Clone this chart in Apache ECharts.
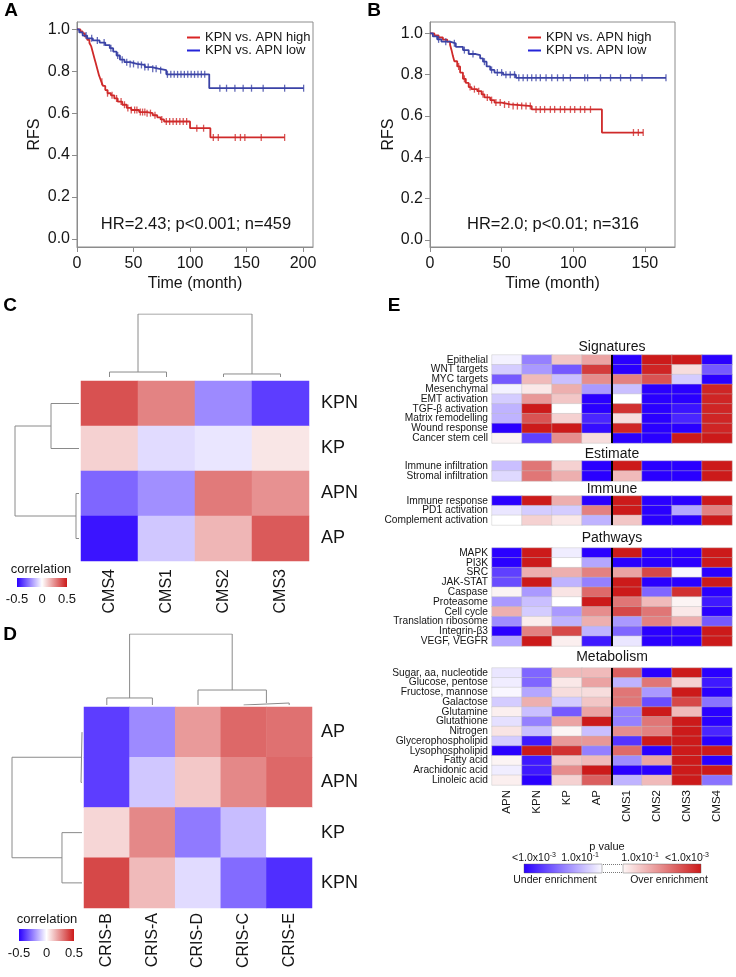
<!DOCTYPE html>
<html><head><meta charset="utf-8">
<script src="https://cdn.jsdelivr.net/npm/echarts@6/dist/echarts.min.js"></script>
<style>html,body{margin:0;padding:0;background:#fff}#c{width:736px;height:977px}</style>
</head><body><div id="c"></div>
<script>
const FONT = '"Liberation Sans", Arial, sans-serif';
const AX = '#8c8c8c', TXT = '#151515';
const BLUE = '#2a00ff', RED = '#cc1a1a';

// ---------- Panel A / B : Kaplan-Meier ----------
const kmLegend = ['KPN vs. APN high', 'KPN vs. APN low'];
const kmYTicks = [0, 0.2, 0.4, 0.6, 0.8, 1.0];
const kmXTicksA = [0, 50, 100, 150, 200];
const kmXTicksB = [0, 50, 100, 150];
const statsA = 'HR=2.43; p<0.001; n=459';
const statsB = 'HR=2.0; p<0.01; n=316';

const kmA_high = [[0,1],[3,0.99],[5,0.98],[7,0.965],[9,0.95],[11,0.935],[12.5,0.92],[13.5,0.9],[14.5,0.88],[15.5,0.86],[16.5,0.84],[17.5,0.82],[18.5,0.8],[19.5,0.78],[20.5,0.765],[21.5,0.75],[23,0.73],[25,0.71],[27,0.695],[30,0.685],[33,0.67],[36,0.655],[40,0.64],[44,0.625],[48,0.615],[55,0.605],[62,0.6],[67,0.59],[71,0.58],[74,0.57],[77,0.56],[100,0.528],[118,0.484],[183.7,0.484]];
const kmA_low = [[0,1],[2,0.985],[5,0.97],[9,0.957],[14,0.947],[20,0.937],[25,0.925],[29,0.91],[32,0.894],[35,0.875],[38,0.855],[42,0.843],[47,0.835],[53,0.83],[60,0.82],[66,0.812],[72,0.805],[79,0.785],[117,0.719],[200.5,0.719]];
const kmA_high_cens = [22,27,31,35,39,42,45,48,51,53,56,58,60,62,65,69,75,79,82,85,88,91,94,97,106,112,120.6,125,140,144.6,148.5,163,183.7];
const kmA_low_cens = [8,13,18,24,30,36,40,44,47,50,54,57,60,63,67,70,74,80,83,86,89,92,95,98,101,104,107,110,113,126.4,132.3,139.7,147,154.4,164.7,183.7,200.5];

const kmB_high = [[0,1],[3,0.99],[6,0.98],[9,0.97],[12,0.96],[14,0.945],[15,0.92],[16,0.89],[17,0.865],[19,0.84],[21,0.81],[23,0.78],[25,0.76],[27,0.74],[29,0.73],[33,0.72],[36,0.705],[38,0.69],[42,0.677],[45,0.665],[50,0.656],[56,0.648],[71,0.632],[120,0.52],[148.8,0.52]];
const kmB_low = [[0,1],[2,0.985],[5,0.971],[8,0.96],[14,0.952],[18,0.935],[23,0.919],[27,0.9],[32,0.895],[35,0.879],[37,0.863],[39.5,0.84],[42,0.823],[45,0.81],[51,0.8],[60,0.785],[164.7,0.785]];
const kmB_high_cens = [20,24,28,31,34,37,40,43,46,49,52,55,58,61,64,67,70,74,77,80,84,87,91,94,98,101,105,108,112,142,145.4,148.8];
const kmB_low_cens = [6,11,17,24,30,38,43,47,50,53,56,59,62,65,68,71,74,77,81,85,89,93,98,108,110,119,126,133,140,148,164.7];

// ---------- Panel C ----------
const cCols = ['CMS4', 'CMS1', 'CMS2', 'CMS3'];
const cRows = ['KPN', 'KP', 'APN', 'AP'];
const cKPN = [0.38, 0.27, -0.23, -0.38];
const cKP  = [0.10, -0.07, -0.05, 0.055];
const cAPN = [-0.30, -0.22, 0.29, 0.24];
const cAP  = [-0.46, -0.11, 0.16, 0.36];
const cColMerges = [[0,1,0.079],[2,3,0.048],[4,5,1]];
const cRowMerges = [[0,1,0.4375],[2,3,0.047],[4,5,1]];

// ---------- Panel D ----------
const dCols = ['CRIS-B', 'CRIS-A', 'CRIS-D', 'CRIS-C', 'CRIS-E'];
const dRows = ['AP', 'APN', 'KP', 'KPN'];
const dAP  = [-0.38, -0.23, 0.22, 0.33, 0.31];
const dAPN = [-0.38, -0.11, 0.12, 0.26, 0.33];
const dKP  = [0.09, 0.26, -0.26, -0.13, 0.0];
const dKPN = [0.40, 0.15, -0.07, -0.29, -0.41];
const dColMerges = [[0,1,0.099],[3,4,0.028],[2,6,0.211],[5,7,1]];
const dRowMerges = [[0,1,0.014],[2,3,0.286],[4,5,1]];
const corrTicks = [-0.5, 0, 0.5];

// ---------- Panel E ----------
const eCols = ['APN','KPN','KP','AP','CMS1','CMS2','CMS3','CMS4'];
const eSigRows = ['Epithelial','WNT targets','MYC targets','Mesenchymal','EMT activation','TGF-β activation','Matrix remodelling','Wound response','Cancer stem cell'];
const eSigVals = [
 [-0.05,-0.5,0.25,0.4,-1,1,1,-1],
 [-0.2,-0.4,-0.65,0.85,-1,0.95,0.15,-0.65],
 [-0.65,0.3,-0.25,0.5,0.55,0.75,-0.2,-1],
 [-0.05,0.1,0.35,-0.4,-0.25,-1,-1,0.95],
 [-0.2,0.45,0.25,-1,0,-1,-1,0.95],
 [-0.3,1,0,-1,0.9,-1,-0.92,0.95],
 [-0.3,0.75,0.2,-0.85,0.15,-1,-0.85,0.95],
 [-1,1,1,-0.95,0.95,-1,-1,0.95],
 [0.05,-0.75,0.5,0.15,-1,-1,1,1]];
const eEstRows = ['Immune infiltration','Stromal infiltration'];
const eEstVals = [
 [-0.25,0.6,0.2,-1,1,-1,-1,1],
 [-0.15,0.6,0.35,-1,0.3,-1,-1,1]];
const eImmRows = ['Immune response','PD1 activation','Complement activation'];
const eImmVals = [
 [-1,1,0.35,-1,1,-1,-1,1],
 [-0.1,-0.2,-0.2,0.55,1,-1,-0.35,0.55],
 [0,0.2,0.1,-0.3,0.25,-1,-1,1]];
const ePathRows = ['MAPK','PI3K','SRC','JAK-STAT','Caspase','Proteasome','Cell cycle','Translation ribosome','Integrin-β3','VEGF, VEGFR'];
const ePathVals = [
 [-1,1,-0.07,-1,1,-1,-1,1],
 [-1,1,0,-0.35,-1,-1,-1,1],
 [-0.75,0.35,0.35,0.55,0.4,0.8,-0.03,-1],
 [-0.7,1,-0.3,-0.5,1,-1,-1,1],
 [0.05,-0.4,0.12,0.65,1,-0.6,0.9,-1],
 [-0.4,-0.25,0,1,0.6,0.3,0.05,-0.9],
 [0.35,-0.2,-0.4,0.5,0.8,0.6,0.1,-1],
 [-0.45,0.08,-0.3,0.35,-0.4,0.55,0.35,-0.65],
 [-1,0.55,0.8,-0.3,-0.6,-1,-1,1],
 [-0.35,1,0.07,-0.9,-0.1,-1,-1,1]];
const eMetRows = ['Sugar, aa, nucleotide','Glucose, pentose','Fructose, mannose','Galactose','Glutamine','Glutathione','Nitrogen','Glycerophospholipid','Lysophospholipid','Fatty acid','Arachidonic acid','Linoleic acid'];
const eMetVals = [
 [-0.1,-0.6,0.3,0.3,0.7,-1,1,-1],
 [-0.07,-0.6,0.1,0.4,-0.3,0.6,0.2,-0.9],
 [-0.03,-0.35,0.15,0.15,0.6,-0.4,1,-1],
 [-0.2,0.35,-0.2,0.25,0.6,-0.7,0.8,-0.55],
 [0.07,-0.25,-0.65,0.4,-0.5,1,0.3,-1],
 [-0.12,-0.5,0.4,1,-0.5,0.6,1,-1],
 [0.12,-0.25,0.05,-0.25,0.5,0.55,1,-0.85],
 [-0.2,-0.9,0.45,0.45,-0.8,1,1,-1],
 [-1,1,0.9,-0.5,0.65,-1,1,1],
 [0.05,-0.9,0.25,0.3,-0.45,0.4,1,-1],
 [-0.07,-0.9,0.5,1,-1,-1,1,1],
 [0.07,-1,0.2,0.7,-0.3,0.3,1,-0.55]];
const eTitles = ['Signatures','Estimate','Immune','Pathways','Metabolism'];
const eLegendTitle = 'p value';
const eLegendLabels = [['<1.0x10','-3'],['1.0x10','-1'],['1.0x10','-1'],['<1.0x10','-3']];
const eLegendSides = ['Under enrichment','Over enrichment'];

// ---------- builders ----------
const grids = [], xAxes = [], yAxes = [], series = [];
function addGrid(g, xa, ya) {
  g.containLabel = false; g.outerBoundsMode = 'none';
  grids.push(g);
  const gi = grids.length - 1;
  xa.gridIndex = gi; ya.gridIndex = gi;
  xAxes.push(xa); yAxes.push(ya);
  return gi;
}
function stepVal(curve, t) { let v = curve[0][1]; for (const p of curve) { if (p[0] <= t) v = p[1]; else break; } return v; }

function kmPanel(box, xMax, yMin, yMax, xTicks, high, low, highC, lowC, nameGapY) {
  const gi = addGrid({left: box[0], top: box[1], width: box[2], height: box[3], show: true, borderColor: AX, borderWidth: 1},
    {type: 'value', min: 0, max: xMax, splitLine: {show: false},
     axisLine: {show: true, onZero: false, lineStyle: {color: AX}},
     axisTick: {show: true, length: 5, customValues: xTicks, lineStyle: {color: AX}},
     axisLabel: {customValues: xTicks, fontSize: 16, color: TXT, margin: 9, fontFamily: FONT},
     name: 'Time (month)', nameLocation: 'middle', nameGap: 29,
     nameTextStyle: {fontSize: 16, color: TXT, fontFamily: FONT}},
    {type: 'value', min: yMin, max: yMax, splitLine: {show: false},
     axisLine: {show: true, onZero: false, lineStyle: {color: AX}},
     axisTick: {show: true, length: 5, customValues: kmYTicks, lineStyle: {color: AX}},
     axisLabel: {customValues: kmYTicks, fontSize: 16, color: TXT, margin: 7, fontFamily: FONT, formatter: v => Number(v).toFixed(1)},
     name: 'RFS', nameLocation: 'middle', nameGap: nameGapY,
     nameTextStyle: {fontSize: 16, color: TXT, fontFamily: FONT}});
  const defs = [[kmLegend[0], high, highC, '#cf2a2a'], [kmLegend[1], low, lowC, '#3b43a6']];
  defs.forEach(([name, curve, cens, col]) => {
    series.push({type: 'line', name, xAxisIndex: gi, yAxisIndex: gi, data: curve, step: 'end',
      showSymbol: false, symbol: 'none', lineStyle: {width: 1.8, color: col}, itemStyle: {color: col}, silent: true, z: 3});
    series.push({type: 'scatter', name: name + ' (censored)', xAxisIndex: gi, yAxisIndex: gi,
      data: cens.map(t => [t, stepVal(curve, t)]), symbol: 'rect', symbolSize: [1.3, 7],
      itemStyle: {color: col}, silent: true, z: 4});
  });
}
kmPanel([77, 22, 236, 225], 208.8, -0.039, 1.035, kmXTicksA, kmA_high, kmA_low, kmA_high_cens, kmA_low_cens, 34);
kmPanel([430, 22, 245, 225], 171, -0.034, 1.055, kmXTicksB, kmB_high, kmB_low, kmB_high_cens, kmB_low_cens, 28);

const corrSeries = [], eSeries = [];
function heatPanel(box, cols, rows, vals, opts) {
  const gi = addGrid({left: box[0], top: box[1], width: box[2], height: box[3]},
    {type: 'category', data: cols, axisLine: {show: false}, axisTick: {show: false}, splitLine: {show: false},
     axisLabel: opts.xLabel ? {interval: 0, rotate: 90, fontSize: opts.xFont, color: TXT, margin: opts.xMargin, fontFamily: FONT} : {show: false}},
    {type: 'category', data: rows, inverse: true, position: opts.yPos, axisLine: {show: false}, axisTick: {show: false}, splitLine: {show: false},
     axisLabel: {interval: 0, fontSize: opts.yFont, color: TXT, margin: opts.yMargin, fontFamily: FONT}});
  const data = [];
  vals.forEach((row, r) => row.forEach((v, c) => data.push([c, r, v])));
  series.push({type: 'heatmap', xAxisIndex: gi, yAxisIndex: gi, data, silent: true,
    itemStyle: opts.border ? {borderColor: 'rgba(190,190,190,0.7)', borderWidth: 0.6} : {borderWidth: 0}});
  (opts.kind === 'corr' ? corrSeries : eSeries).push(series.length - 1);
  return gi;
}
function dendro(box, n, merges, horizontal) {
  const gi = addGrid({left: box[0], top: box[1], width: box[2], height: box[3]},
    horizontal ? {type: 'value', min: 0, max: 1, inverse: true, show: false} : {type: 'value', min: 0, max: n, show: false},
    horizontal ? {type: 'value', min: 0, max: n, inverse: true, show: false} : {type: 'value', min: 0, max: 1, show: false});
  const pos = [], hgt = [];
  for (let i = 0; i < n; i++) { pos.push(i + 0.5); hgt.push(0); }
  merges.forEach(([a, b, h]) => {
    let pts = [[pos[a], hgt[a]], [pos[a], h], [pos[b], h], [pos[b], hgt[b]]];
    if (horizontal) pts = pts.map(p => [p[1], p[0]]);
    series.push({type: 'line', xAxisIndex: gi, yAxisIndex: gi, data: pts, showSymbol: false, symbol: 'none',
      lineStyle: {width: 1, color: '#8a8a8a'}, silent: true, z: 2});
    pos.push((pos[a] + pos[b]) / 2); hgt.push(h);
  });
}

// C
heatPanel([81, 381, 228, 180], cCols, cRows, [cKPN, cKP, cAPN, cAP],
  {kind: 'corr', xLabel: true, xFont: 16, xMargin: 8, yPos: 'right', yFont: 18, yMargin: 12});
dendro([81, 314, 228, 63], 4, cColMerges, false);
dendro([15, 381, 64, 180], 4, cRowMerges, true);
// D
heatPanel([84, 707, 228, 201], dCols, dRows, [dAP, dAPN, dKP, dKPN],
  {kind: 'corr', xLabel: true, xFont: 16, xMargin: 5, yPos: 'right', yFont: 18, yMargin: 9});
dendro([84, 634, 228, 71], 5, dColMerges, false);
dendro([12, 707, 70, 201], 4, dRowMerges, true);
// E
const eBlocks = [
  [355, 88, eSigRows, eSigVals, 347],
  [461, 20, eEstRows, eEstVals, 454],
  [496, 29, eImmRows, eImmVals, 489],
  [548, 98, ePathRows, ePathVals, 538],
  [668, 117, eMetRows, eMetVals, 657]];
const eGrids = eBlocks.map((b, i) => heatPanel([492, b[0], 240, b[1]], eCols, b[2], b[3],
  {kind: 'e', border: true, xLabel: i === eBlocks.length - 1, xFont: 11.5, xMargin: 5, yPos: 'left', yFont: 10.2, yMargin: 4}));

// ---------- graphics ----------
const ctx = document.createElement('canvas').getContext('2d');
function tw(text, font) { ctx.font = font; return ctx.measureText(text).width; }
function txt(x, y, text, size, opts = {}) {
  const font = (opts.bold ? 'bold ' : '') + size + 'px ' + FONT;
  return {type: 'text', x, y, silent: true, z: 10,
    style: {text, font, fill: opts.fill || TXT, textAlign: opts.align || 'center', align: opts.align || 'center',
      textVerticalAlign: 'middle', verticalAlign: 'middle'}};
}
const graphics = [];
[['A', 11, 11], ['B', 374, 11], ['C', 10, 306], ['D', 10, 635], ['E', 394, 306]].forEach(([t, x, y]) => graphics.push(txt(x, y, t, 19, {bold: true, fill: '#000'})));
graphics.push(txt(196, 224, statsA, 16.5));
graphics.push(txt(553, 224, statsB, 16.5));
eBlocks.forEach((b, i) => graphics.push(txt(612, b[4], eTitles[i], 14)));

function corrLegend(cx, ty, bx, by, bw, bh, ly) {
  graphics.push(txt(cx, ty, 'correlation', 13));
  graphics.push({type: 'rect', shape: {x: bx, y: by, width: bw, height: bh}, silent: true,
    style: {fill: {type: 'linear', x: 0, y: 0, x2: 1, y2: 0, colorStops: [{offset: 0, color: BLUE}, {offset: 0.5, color: '#ffffff'}, {offset: 1, color: RED}]}}});
  corrTicks.forEach(v => graphics.push(txt(bx + (v + 0.5) * bw, ly, String(v), 13)));
}
corrLegend(41, 569, 17, 578, 50, 9, 599);
corrLegend(47, 919, 19, 929, 55, 12, 953);

// E legend
graphics.push(txt(607, 847, eLegendTitle, 11));
[534, 580, 640, 687].forEach((cx, i) => {
  const [base, sup] = eLegendLabels[i];
  const fb = '10.5px ' + FONT, fs = '7px ' + FONT;
  const wb = tw(base, fb), ws = tw(sup, fs);
  const left = cx - (wb + ws) / 2;
  graphics.push({type: 'text', x: left, y: 858, silent: true, style: {text: base, font: fb, fill: TXT, textAlign: 'left', align: 'left', textVerticalAlign: 'middle', verticalAlign: 'middle'}});
  graphics.push({type: 'text', x: left + wb, y: 855, silent: true, style: {text: sup, font: fs, fill: TXT, textAlign: 'left', align: 'left', textVerticalAlign: 'middle', verticalAlign: 'middle'}});
});
graphics.push({type: 'rect', shape: {x: 524, y: 864, width: 78, height: 9}, silent: true,
  style: {fill: {type: 'linear', x: 0, y: 0, x2: 1, y2: 0, colorStops: [{offset: 0, color: BLUE}, {offset: 1, color: '#fbfaff'}]}, stroke: '#555', lineWidth: 0.4}});
graphics.push({type: 'rect', shape: {x: 623, y: 864, width: 78, height: 9}, silent: true,
  style: {fill: {type: 'linear', x: 0, y: 0, x2: 1, y2: 0, colorStops: [{offset: 0, color: '#fff8f8'}, {offset: 1, color: RED}]}, stroke: '#555', lineWidth: 0.4}});
[864.5, 872.5].forEach(y => graphics.push({type: 'line', shape: {x1: 603, y1: y, x2: 622, y2: y}, silent: true,
  style: {stroke: '#555', lineWidth: 0.8, lineDash: [1, 1]}}));
graphics.push(txt(555, 880, eLegendSides[0], 10.5));
graphics.push(txt(669, 880, eLegendSides[1], 10.5));

const option = {
  animation: false,
  backgroundColor: '#ffffff',
  textStyle: {fontFamily: FONT},
  grid: grids, xAxis: xAxes, yAxis: yAxes, series,
  visualMap: [
    {type: 'continuous', show: false, min: -0.5, max: 0.5, seriesIndex: corrSeries, inRange: {color: [BLUE, '#ffffff', RED]}},
    {type: 'continuous', show: false, min: -1, max: 1, seriesIndex: eSeries, inRange: {color: [BLUE, '#ffffff', RED]}}],
  legend: [
    {left: 182, top: 26, orient: 'vertical', icon: 'rect', itemWidth: 13, itemHeight: 2, itemGap: 0, selectedMode: false,
     textStyle: {fontSize: 13, lineHeight: 13, color: TXT, fontFamily: FONT},
     data: [{name: kmLegend[0], itemStyle: {color: '#d92424'}}, {name: kmLegend[1], itemStyle: {color: '#2424d9'}}]},
    {left: 523, top: 26, orient: 'vertical', icon: 'rect', itemWidth: 13, itemHeight: 2, itemGap: 0, selectedMode: false,
     textStyle: {fontSize: 13, lineHeight: 13, color: TXT, fontFamily: FONT},
     data: [{name: kmLegend[0], itemStyle: {color: '#d92424'}}, {name: kmLegend[1], itemStyle: {color: '#2424d9'}}]}]
};
const chart = echarts.init(document.getElementById('c'), null, {renderer: 'canvas', width: 736, height: 977});
chart.setOption(option);

// separator line between the subtype columns and the CMS columns, from the axes
eGrids.forEach((gi, i) => {
  const rows = eBlocks[i][2];
  const pA = chart.convertToPixel({gridIndex: gi}, ['AP', rows[0]]);
  const pC = chart.convertToPixel({gridIndex: gi}, ['CMS1', rows[1]]);
  const pL = chart.convertToPixel({gridIndex: gi}, ['CMS1', rows[rows.length - 1]]);
  const x = (pA[0] + pC[0]) / 2, band = pC[1] - pA[1];
  graphics.push({type: 'line', silent: true, z: 20, shape: {x1: x, y1: pA[1] - band / 2, x2: x, y2: pL[1] + band / 2},
    style: {stroke: '#000', lineWidth: 2}});
});
chart.setOption({graphic: graphics});
</script></body></html>
